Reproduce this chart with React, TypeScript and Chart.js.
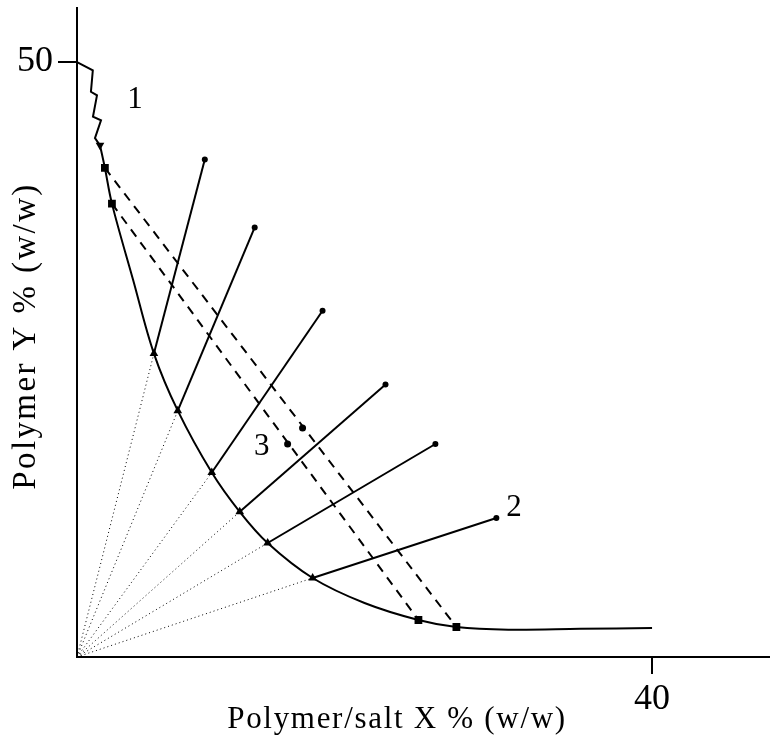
import React, { useEffect, useRef } from "react";
import { Chart, registerables } from "chart.js";

Chart.register(...registerables);

// Binodal: jagged top part
const zigX = [0, 1.1, 0.97, 1.39, 1.11, 1.67, 1.25, 1.6];
const zigY = [50, 49.3, 47.5, 47.2, 45.4, 45.1, 43.6, 43.0];
// Binodal: smooth part
const binX = [1.6, 1.94, 2.43, 3.9, 5.35, 7.01, 9.375, 11.32, 13.26, 16.39, 20, 23.75, 26.39, 30, 35, 40];
const binY = [43.0, 41.1, 38.1, 31.7, 25.5, 20.7, 15.5, 12.2, 9.58, 6.64, 4.54, 3.11, 2.52, 2.3, 2.37, 2.44];
// Tie lines: binodal point -> feed end point
const tieX = [5.35, 7.01, 9.375, 11.32, 13.26, 16.39];
const tieY = [25.5, 20.7, 15.5, 12.2, 9.58, 6.64];
const endX = [8.89, 12.36, 17.08, 21.46, 24.93, 29.17];
const endY = [41.8, 36.1, 29.1, 22.9, 17.9, 11.68];
// Dashed tie lines (top square -> bottom square) with mid points
const dashTopX = [1.94, 2.43];
const dashTopY = [41.1, 38.1];
const dashMidX = [15.69, 14.65];
const dashMidY = [19.24, 17.9];
const dashBotX = [26.39, 23.75];
const dashBotY = [2.52, 3.11];
// Down-triangle marker
const downX = [1.6];
const downY = [43.0];
// Text labels
const labelText = ["1", "2", "3"];
const labelX = [4.03, 30.4, 12.85];
const labelY = [46.8, 12.5, 17.7];
// Ticks
const xTicks = [40];
const yTicks = [50];
const xTitle = "Polymer/salt X % (w/w)";
const yTitle = "Polymer Y % (w/w)";

const INK = "#000";
const SERIF = '"Liberation Serif", "DejaVu Serif", serif';

const textPlugin = {
  id: "texts",
  afterDatasetsDraw(chart: any) {
    const { ctx, scales } = chart;
    const x = scales.x;
    const y = scales.y;
    ctx.save();
    ctx.fillStyle = INK;
    ctx.textAlign = "center";
    ctx.textBaseline = "middle";
    ctx.font = `31px ${SERIF}`;
    labelText.forEach((t, i) => {
      ctx.fillText(t, x.getPixelForValue(labelX[i]), y.getPixelForValue(labelY[i]));
    });
    // x axis title
    ctx.font = `31px ${SERIF}`;
    (ctx as any).letterSpacing = "1.7px";
    ctx.textBaseline = "alphabetic";
    ctx.fillText(xTitle, 397, 728);
    // y axis title
    ctx.font = `33px ${SERIF}`;
    (ctx as any).letterSpacing = "2.4px";
    ctx.textBaseline = "middle";
    ctx.translate(26, 336);
    ctx.rotate(-Math.PI / 2);
    ctx.fillText(yTitle, 0, 0);
    ctx.restore();
  },
};

export default function App() {
  const ref = useRef<HTMLCanvasElement>(null);
  useEffect(() => {
    if (!ref.current) return;
    const pts = (xs: number[], ys: number[]) => xs.map((v, i) => ({ x: v, y: ys[i] }));
    const datasets: any[] = [];
    datasets.push({
      data: pts(zigX, zigY),
      borderColor: INK,
      borderWidth: 2,
      pointRadius: 0,
      tension: 0,
    });
    datasets.push({
      data: pts(binX, binY),
      borderColor: INK,
      borderWidth: 2,
      pointRadius: 0,
      tension: 0.35,
    });
    // dotted lines from origin
    tieX.forEach((tx, i) => {
      datasets.push({
        data: [{ x: 0, y: 0 }, { x: tx, y: tieY[i] }],
        borderColor: INK,
        borderWidth: 1,
        borderDash: [1, 3],
        pointRadius: 0,
      });
    });
    // dashed lines
    dashTopX.forEach((dx, i) => {
      datasets.push({
        data: [{ x: dx, y: dashTopY[i] }, { x: dashBotX[i], y: dashBotY[i] }],
        borderColor: INK,
        borderWidth: 2,
        borderDash: [9, 7],
        pointRadius: 0,
      });
    });
    // tie lines
    tieX.forEach((tx, i) => {
      datasets.push({
        data: [{ x: tx, y: tieY[i] }, { x: endX[i], y: endY[i] }],
        borderColor: INK,
        borderWidth: 2,
        pointRadius: [0, 3],
        pointBackgroundColor: INK,
        pointBorderColor: INK,
        pointBorderWidth: 0,
      });
    });
    // triangles
    datasets.push({
      data: pts(tieX, tieY),
      showLine: false,
      pointStyle: "triangle",
      pointRadius: 5,
      pointBackgroundColor: INK,
      pointBorderColor: INK,
      pointBorderWidth: 0,
    });
    datasets.push({
      data: pts(downX, downY),
      showLine: false,
      pointStyle: "triangle",
      rotation: 180,
      pointRadius: 5,
      pointBackgroundColor: INK,
      pointBorderColor: INK,
      pointBorderWidth: 0,
    });
    // squares
    datasets.push({
      data: [...pts(dashTopX, dashTopY), ...pts(dashBotX, dashBotY)],
      showLine: false,
      pointStyle: "rect",
      pointRadius: 5.5,
      pointBackgroundColor: INK,
      pointBorderColor: INK,
      pointBorderWidth: 0,
    });
    // mid circles
    datasets.push({
      data: pts(dashMidX, dashMidY),
      showLine: false,
      pointStyle: "circle",
      pointRadius: 3.5,
      pointBackgroundColor: INK,
      pointBorderColor: INK,
      pointBorderWidth: 0,
    });

    const chart = new Chart(ref.current, {
      type: "line",
      data: { datasets },
      plugins: [textPlugin],
      options: {
        animation: false,
        responsive: false,
        events: [],
        layout: { padding: { top: 8, right: 4, left: 0, bottom: 0 } },
        plugins: { legend: { display: false }, tooltip: { enabled: false } },
        elements: { line: { fill: false } },
        scales: {
          x: {
            type: "linear",
            min: 0,
            max: 48.1,
            afterFit: (s: any) => {
              s.height = 86;
              s.paddingLeft = 0;
              s.paddingRight = 0;
            },
            afterBuildTicks: (s: any) => {
              s.ticks = xTicks.map((v) => ({ value: v }));
            },
            ticks: {
              color: INK,
              font: { family: SERIF, size: 36 },
              padding: 4,
              maxRotation: 0,
            },
            grid: {
              display: true,
              drawOnChartArea: false,
              drawTicks: true,
              tickLength: 17,
              color: INK,
              lineWidth: 2,
            },
            border: { display: true, color: INK, width: 2 },
          },
          y: {
            type: "linear",
            min: 0,
            max: 54.54,
            afterFit: (s: any) => {
              s.width = 77;
              s.paddingTop = 0;
              s.paddingBottom = 0;
            },
            afterBuildTicks: (s: any) => {
              s.ticks = yTicks.map((v) => ({ value: v }));
            },
            ticks: {
              color: INK,
              font: { family: SERIF, size: 36 },
              padding: 5,
            },
            grid: {
              display: true,
              drawOnChartArea: false,
              drawTicks: true,
              tickLength: 19,
              color: INK,
              lineWidth: 2,
            },
            border: { display: true, color: INK, width: 2 },
          },
        },
      },
    } as any);
    return () => chart.destroy();
  }, []);
  return (
    <div style={{ position: "absolute", left: 0, top: 0, width: 774, height: 743, background: "#fff" }}>
      <canvas ref={ref} width={774} height={743} style={{ display: "block" }} />
    </div>
  );
}
